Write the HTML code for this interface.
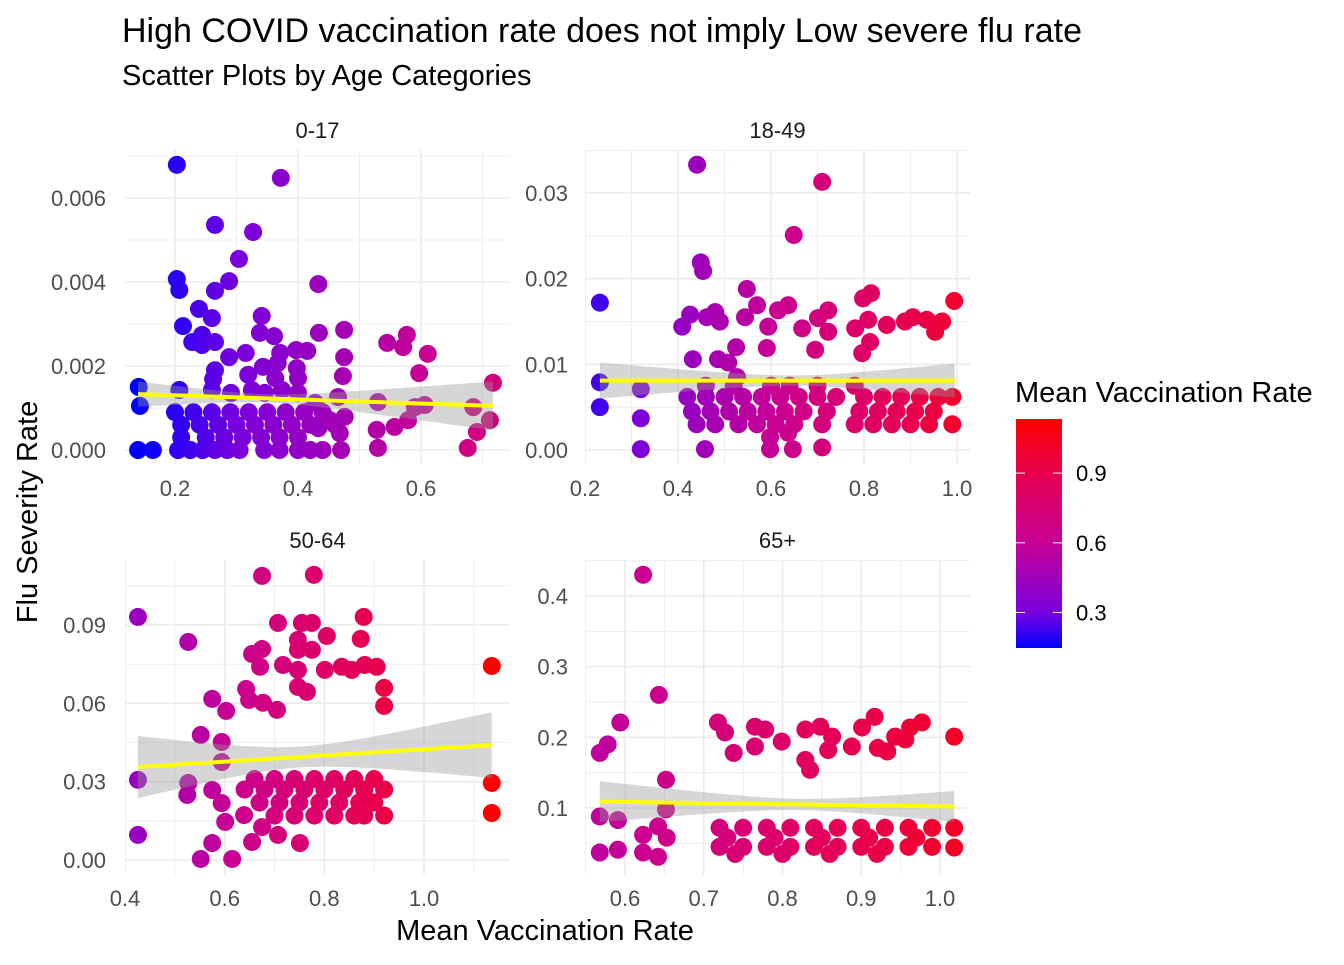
<!DOCTYPE html>
<html><head><meta charset="utf-8"><style>
html,body{margin:0;padding:0;background:#fff;}
svg text{font-family:"Liberation Sans",Arial,sans-serif;}
</style></head><body>
<svg id="chart" width="1344" height="960" viewBox="0 0 1344 960">
<text x="122" y="42" font-size="34" fill="#000">High COVID vaccination rate does not imply Low severe flu rate</text>
<text x="122" y="85" font-size="29" fill="#000">Scatter Plots by Age Categories</text>
<text x="545" y="940" font-size="29" text-anchor="middle" fill="#000">Mean Vaccination Rate</text>
<text transform="translate(37,512) rotate(-90)" font-size="29" text-anchor="middle" fill="#000">Flu Severity Rate</text>
<g id="panels"></g>
<g id="legend">
<text x="1015" y="402" font-size="29" fill="#000">Mean Vaccination Rate</text>
</g>
</svg>
<script>
// ---- data (x = mean vaccination rate, y = flu severity rate) ----
const panelNames = ["0-17","18-49","50-64","65+"];
const xTicks017 = [0.2,0.4,0.6];
const yTicks017 = [0,0.002,0.004,0.006];
const yTickLabels017 = ["0.000","0.002","0.004","0.006"];
const xTicks1849 = [0.2,0.4,0.6,0.8,1.0];
const yTicks1849 = [0,0.01,0.02,0.03];
const yTickLabels1849 = ["0.00","0.01","0.02","0.03"];
const xTicks5064 = [0.4,0.6,0.8,1.0];
const yTicks5064 = [0,0.03,0.06,0.09];
const yTickLabels5064 = ["0.00","0.03","0.06","0.09"];
const xTicks65 = [0.6,0.7,0.8,0.9,1.0];
const yTicks65 = [0.1,0.2,0.3,0.4];
const yTickLabels65 = ["0.1","0.2","0.3","0.4"];
const legendTicks = [0.3,0.6,0.9];

const x017 = [0.203,0.372,0.265,0.327,0.304,0.203,0.207,0.288,0.265,0.433,0.239,0.26,0.213,0.341,0.338,0.361,0.434,0.475,0.244,0.228,0.244,0.265,0.288,0.315,0.371,0.397,0.415,0.475,0.265,0.262,0.319,0.343,0.367,0.398,0.4,0.363,0.473,0.545,0.577,0.571,0.611,0.597,0.717,0.141,0.143,0.14,0.164,0.207,0.26,0.291,0.325,0.346,0.374,0.4,0.428,0.465,0.53,0.59,0.606,0.685,0.712,0.691,0.676,0.53,0.528,0.557,0.579,0.468,0.476,0.452,0.433,
0.205,0.225,0.245,0.265,0.285,0.305,0.345,0.37,0.4,0.42,0.44,0.47,
0.2,0.23,0.26,0.29,0.32,0.35,0.38,0.41,0.44,
0.21,0.24,0.27,0.3,0.33,0.36,0.39,0.42,0.46,
0.21,0.25,0.28,0.31,0.34,0.37,0.4];
const y017 = [0.00679,0.00648,0.00536,0.00519,0.00455,0.00407,0.00381,0.00402,0.00379,0.00395,0.00336,0.00314,0.00295,0.00319,0.00279,0.00271,0.00279,0.00286,0.00274,0.00257,0.0025,0.00257,0.00221,0.00231,0.00231,0.00238,0.00236,0.00221,0.0019,0.00169,0.00179,0.00198,0.00207,0.00195,0.00171,0.00171,0.00176,0.00255,0.00274,0.00245,0.00229,0.00183,0.0016,0.0015,0.00105,0,0,0.00143,0.00143,0.00136,0.00143,0.00136,0.00143,0.00136,0.00112,0.00126,0.00114,0.00102,0.00107,0.00102,0.00071,0.00043,0.00005,0.00005,0.00048,0.00055,0.00071,0.0004,0.00079,0.00071,0.00052,
0,0,0,0,0,0,0,0,0,0,0,0,
0.0009,0.0009,0.0009,0.0009,0.0009,0.0009,0.0009,0.0009,0.0009,
0.0006,0.0006,0.0006,0.0006,0.0006,0.0006,0.0006,0.0006,0.0006,
0.0003,0.0003,0.0003,0.0003,0.0003,0.0003,0.0003];

const x1849 = [0.441,0.71,0.649,0.449,0.454,0.232,0.548,0.798,0.815,0.994,0.409,0.426,0.462,0.48,0.49,0.544,0.57,0.594,0.615,0.637,0.667,0.701,0.723,0.723,0.695,0.591,0.525,0.781,0.809,0.813,0.796,0.849,0.888,0.905,0.935,0.953,0.968,0.432,0.486,0.508,0.527,0.232,0.232,0.32,0.32,0.32,0.458,0.598,0.647,0.71,0.598,0.637,
0.42,0.46,0.5,0.54,0.58,0.62,0.66,0.7,0.74,0.8,0.84,0.88,0.92,0.96,0.99,
0.43,0.47,0.51,0.55,0.59,0.63,0.67,0.72,0.79,0.83,0.87,0.91,0.95,
0.44,0.48,0.53,0.57,0.61,0.65,0.71,0.78,0.82,0.86,0.9,0.94,0.99,
0.46,0.52,0.6,0.64,0.7,0.78];
const y1849 = [0.0333,0.0313,0.0251,0.0219,0.0209,0.0172,0.0188,0.0177,0.0183,0.0174,0.0144,0.0158,0.0155,0.0161,0.015,0.0155,0.0169,0.0144,0.0163,0.0169,0.0142,0.0154,0.0163,0.0138,0.0117,0.0119,0.012,0.0142,0.0152,0.0126,0.0113,0.0146,0.015,0.0155,0.0152,0.0138,0.015,0.0106,0.0106,0.0102,0.0085,0.0079,0.005,0.0071,0.0037,0.0001,0.0001,0.0001,0.0001,0.0003,0.0015,0.002,
0.0062,0.0062,0.0062,0.0062,0.0062,0.0062,0.0062,0.0062,0.0062,0.0062,0.0062,0.0062,0.0062,0.0062,0.0062,
0.0045,0.0045,0.0045,0.0045,0.0045,0.0045,0.0045,0.0045,0.0045,0.0045,0.0045,0.0045,0.0045,
0.003,0.003,0.003,0.003,0.003,0.003,0.003,0.003,0.003,0.003,0.003,0.003,0.003,
0.0075,0.0075,0.0075,0.0075,0.0075,0.0075];

const x5064 = [0.675,0.779,0.426,0.527,0.707,0.755,0.775,0.879,0.873,0.805,0.747,0.675,0.655,0.671,0.717,0.747,0.775,0.747,0.801,0.835,0.855,0.881,0.905,0.747,0.765,0.92,0.92,1.136,0.643,0.649,0.677,0.705,0.575,0.603,0.552,0.594,0.594,0.426,0.527,0.525,0.575,0.594,0.601,0.639,0.426,0.575,0.552,0.615,0.655,0.675,0.707,0.751,1.136,1.136,
0.66,0.7,0.74,0.78,0.82,0.86,0.9,
0.64,0.68,0.72,0.76,0.8,0.84,0.88,0.92,
0.67,0.71,0.75,0.79,0.83,0.87,0.9,
0.7,0.74,0.78,0.82,0.86,0.88,0.92];
const y5064 = [0.1088,0.1092,0.0931,0.0835,0.0908,0.0908,0.0908,0.0931,0.0847,0.0858,0.0843,0.0808,0.0789,0.074,0.0747,0.0805,0.0805,0.0728,0.0728,0.074,0.0728,0.0747,0.074,0.0663,0.0644,0.0659,0.059,0.0743,0.0655,0.0613,0.0602,0.0575,0.0617,0.0571,0.0479,0.0452,0.0375,0.0307,0.0295,0.0249,0.0268,0.0218,0.0146,0.0172,0.0096,0.0065,0.0004,0.0004,0.0069,0.0126,0.0096,0.0065,0.0295,0.018,
0.031,0.031,0.031,0.031,0.031,0.031,0.031,
0.027,0.027,0.027,0.027,0.027,0.027,0.027,0.027,
0.022,0.022,0.022,0.022,0.022,0.022,0.022,
0.017,0.017,0.017,0.017,0.017,0.017,0.017];

const x65 = [0.623,0.643,0.594,0.578,0.568,0.652,0.652,0.568,0.591,0.568,0.591,0.623,0.642,0.653,0.623,0.642,1.018,1.018,1.018,
0.718,0.727,0.738,0.765,0.765,0.778,0.799,0.829,0.848,0.829,0.835,0.863,0.858,0.888,0.901,0.917,0.921,0.933,0.943,0.956,0.962,0.977,
0.72,0.75,0.78,0.81,0.84,0.87,0.9,0.93,0.96,0.99,
0.72,0.75,0.78,0.81,0.84,0.87,0.9,0.93,0.96,0.99,
0.73,0.79,0.85,0.91,0.97,
0.74,0.8,0.86,0.92];
const y65 = [0.43,0.26,0.221,0.19,0.178,0.14,0.098,0.088,0.083,0.037,0.041,0.062,0.074,0.058,0.037,0.031,0.201,0.072,0.044,
0.221,0.207,0.178,0.215,0.187,0.211,0.194,0.211,0.215,0.168,0.154,0.201,0.182,0.187,0.214,0.229,0.185,0.18,0.201,0.197,0.214,0.221,
0.072,0.072,0.072,0.072,0.072,0.072,0.072,0.072,0.072,0.072,
0.045,0.045,0.045,0.045,0.045,0.045,0.045,0.045,0.045,0.045,
0.058,0.058,0.058,0.058,0.058,
0.035,0.035,0.035,0.035];

// linear fit: [x0, y0, x1, y1], ribbon half-widths [left, min, right], x at min
const fit017 = [0.14,0.00133,0.717,0.00105];
const band017 = [0.0003,0.0001,0.00058,0.35];
const fit1849 = [0.232,0.0081,0.995,0.0081];
const band1849 = [0.0021,0.0006,0.002,0.65];
const fit5064 = [0.426,0.0356,1.136,0.044];
const band5064 = [0.0119,0.004,0.0126,0.75];
const fit65 = [0.568,0.109,1.018,0.102];
const band65 = [0.029,0.008,0.022,0.82];

const colorLimits = [0.147,1.133];

// ---- layout ----
const NS="http://www.w3.org/2000/svg";
function mk(tag,attrs,parent){const e=document.createElementNS(NS,tag);for(const k in attrs)e.setAttribute(k,attrs[k]);parent.appendChild(e);return e;}
const colorStops=[[0.147,[0,0,255]],[0.3,[120,0,222]],[0.6,[199,0,150]],[0.9,[232,0,78]],[1.133,[255,0,0]]];
function colorOf(v){
  if(v<=colorStops[0][0])return "rgb(0,0,255)";
  for(let i=1;i<colorStops.length;i++){
    if(v<=colorStops[i][0]){const a=colorStops[i-1],b=colorStops[i];const t=(v-a[0])/(b[0]-a[0]);
      return "rgb("+a[1].map((c,j)=>Math.round(c+(b[1][j]-c)*t)).join(",")+")";}
  }
  return "rgb(255,0,0)";
}
const panels=[
 {name:panelNames[0],L:125,R:510,T:150,B:465,xp:[0.2,175,0.6,421],yp:[0,450,0.006,198],xt:xTicks017,xl:["0.2","0.4","0.6"],yt:yTicks017,yl:yTickLabels017,xs:x017,ys:y017,fit:fit017,band:band017,xMinor:0.1,yMinor:0.001,labX:106},
 {name:panelNames[1],L:585,R:970,T:150,B:465,xp:[0.2,585,1.0,957],yp:[0,450,0.03,193],xt:xTicks1849,xl:["0.2","0.4","0.6","0.8","1.0"],yt:yTicks1849,yl:yTickLabels1849,xs:x1849,ys:y1849,fit:fit1849,band:band1849,xMinor:0.1,yMinor:0.005,labX:568},
 {name:panelNames[2],L:125,R:510,T:560,B:875,xp:[0.4,125,1.0,424],yp:[0,860,0.09,625],xt:xTicks5064,xl:["0.4","0.6","0.8","1.0"],yt:yTicks5064,yl:yTickLabels5064,xs:x5064,ys:y5064,fit:fit5064,band:band5064,xMinor:0.1,yMinor:0.015,labX:106},
 {name:panelNames[3],L:585,R:970,T:560,B:875,xp:[0.6,625,1.0,940],yp:[0.1,808,0.4,596],xt:xTicks65,xl:["0.6","0.7","0.8","0.9","1.0"],yt:yTicks65,yl:yTickLabels65,xs:x65,ys:y65,fit:fit65,band:band65,xMinor:0.05,yMinor:0.05,labX:568}
];
const root=document.getElementById("panels");
panels.forEach((p,pi)=>{
  const sx=v=>p.xp[1]+(v-p.xp[0])*(p.xp[3]-p.xp[1])/(p.xp[2]-p.xp[0]);
  const sy=v=>p.yp[1]+(v-p.yp[0])*(p.yp[3]-p.yp[1])/(p.yp[2]-p.yp[0]);
  const inv=px=>p.xp[0]+(px-p.xp[1])*(p.xp[2]-p.xp[0])/(p.xp[3]-p.xp[1]);
  const invy=py=>p.yp[0]+(py-p.yp[1])*(p.yp[2]-p.yp[0])/(p.yp[3]-p.yp[1]);
  const g=mk("g",{},root);
  
  
  const cid="clip"+pi;
  const cp=mk("clipPath",{id:cid},g);mk("rect",{x:p.L,y:p.T,width:p.R-p.L,height:p.B-p.T},cp);
  const grid=mk("g",{"clip-path":"url(#"+cid+")"},g);
  
  
  const xa=inv(p.L),xb=inv(p.R);
  for(let k=Math.ceil(xa/p.xMinor-1e-9);k*p.xMinor<=xb+1e-9;k++){
    const v=k*p.xMinor;const major=p.xt.some(t=>Math.abs(t-v)<1e-6)||(k%2===0);
    mk("line",{x1:sx(v),x2:sx(v),y1:p.T,y2:p.B,stroke:"#ebebeb","stroke-width":major?1.6:0.8},grid);
  }
  const ya=invy(p.B),yb=invy(p.T);
  for(let k=Math.ceil(ya/p.yMinor-1e-9);k*p.yMinor<=yb+1e-9;k++){
    const v=k*p.yMinor;const major=(k%2===0);
    mk("line",{x1:p.L,x2:p.R,y1:sy(v),y2:sy(v),stroke:"#ebebeb","stroke-width":major?1.6:0.8},grid);
  }
  p.xt.forEach((v,i)=>{const t=mk("text",{x:sx(v),y:p.B+31,"font-size":"22","text-anchor":"middle",fill:"#4d4d4d"},g);t.textContent=p.xl[i];
    
    });
  p.yt.forEach((v,i)=>{const t=mk("text",{x:p.labX,y:sy(v)+8,"font-size":"22","text-anchor":"end",fill:"#4d4d4d"},g);t.textContent=p.yl[i];
    
    });
  const st=mk("text",{x:(p.L+p.R)/2,y:p.T-12,"font-size":"22","text-anchor":"middle",fill:"#1a1a1a"},g);st.textContent=p.name;
  
  
  const pts=mk("g",{},g);
  
  
  p.xs.forEach((xv,i)=>{const c=mk("circle",{cx:sx(xv),cy:sy(p.ys[i]),r:9,fill:colorOf(xv)},pts);
    
    });
  const f=p.fit,b=p.band;
  const lineY=x=>f[1]+(x-f[0])*(f[3]-f[1])/(f[2]-f[0]);
  const hw=x=>{const edge=x<b[3]?b[0]:b[2];const ex=x<b[3]?f[0]:f[2];const k=(edge*edge-b[1]*b[1])/((ex-b[3])*(ex-b[3]));return Math.sqrt(b[1]*b[1]+k*(x-b[3])*(x-b[3]));};
  let up=[],dn=[];
  for(let i=0;i<=60;i++){const x=f[0]+(f[2]-f[0])*i/60;up.push(sx(x)+","+sy(lineY(x)+hw(x)));dn.unshift(sx(x)+","+sy(lineY(x)-hw(x)));}
  const rib=mk("polygon",{points:up.concat(dn).join(" "),fill:"#999","fill-opacity":0.4},g);
  
  
  const ln=mk("line",{x1:sx(f[0]),y1:sy(f[1]),x2:sx(f[2]),y2:sy(f[3]),stroke:"#ffff00","stroke-width":4},g);
  
  
});
const lg=document.getElementById("legend");
const defs=mk("defs",{},lg);
const grad=mk("linearGradient",{id:"cbar",x1:0,y1:1,x2:0,y2:0},defs);
colorStops.forEach(s=>mk("stop",{offset:(s[0]-colorLimits[0])/(colorLimits[1]-colorLimits[0]),"stop-color":"rgb("+s[1].join(",")+")"},grad));
const bar=mk("rect",{x:1016,y:419,width:46,height:229,fill:"url(#cbar)"},lg);


const ly=v=>648-(v-colorLimits[0])*229/(colorLimits[1]-colorLimits[0]);
legendTicks.forEach(v=>{
  mk("line",{x1:1016,x2:1025,y1:ly(v),y2:ly(v),stroke:"#fff","stroke-width":1},lg);
  mk("line",{x1:1053,x2:1062,y1:ly(v),y2:ly(v),stroke:"#fff","stroke-width":1},lg);
  const t=mk("text",{x:1076,y:ly(v)+8,"font-size":"22",fill:"#000"},lg);t.textContent=v.toFixed(1);
  
  
});
</script>
</body></html>
